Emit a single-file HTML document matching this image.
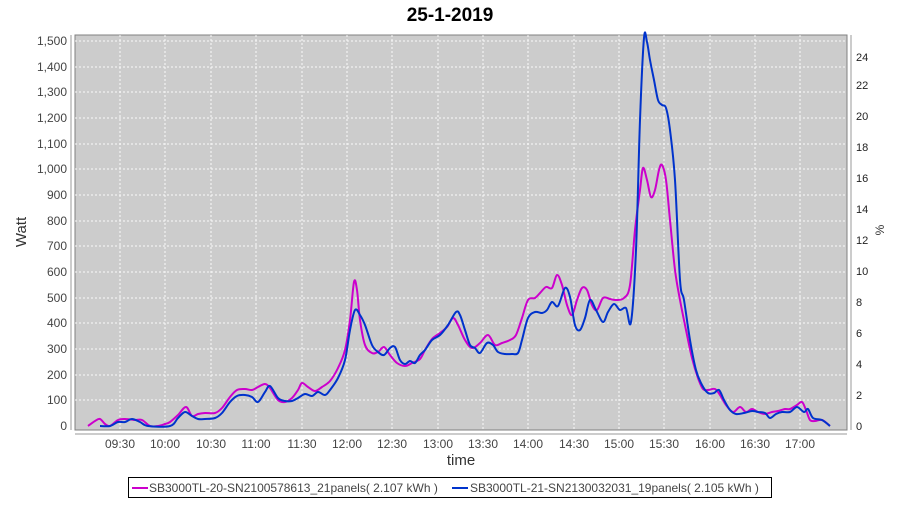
<!DOCTYPE html>
<html><head><meta charset="utf-8"><style>
body{margin:0;background:#fff;}
svg text{font-family:"Liberation Sans",sans-serif;}
</style></head><body>
<svg width="900" height="500" xmlns="http://www.w3.org/2000/svg">
<rect width="900" height="500" fill="#fff"/>
<text x="450" y="21" text-anchor="middle" font-size="19" font-weight="bold">25-1-2019</text>
<rect x="75" y="35" width="772" height="395" fill="#cccccc" stroke="#808080"/>
<g stroke="#fff" stroke-dasharray="2,2" stroke-width="1" opacity="0.9">
<line x1="75" x2="847" y1="41" y2="41"/><line x1="75" x2="847" y1="67" y2="67"/><line x1="75" x2="847" y1="92" y2="92"/><line x1="75" x2="847" y1="118" y2="118"/><line x1="75" x2="847" y1="144" y2="144"/><line x1="75" x2="847" y1="169" y2="169"/><line x1="75" x2="847" y1="195" y2="195"/><line x1="75" x2="847" y1="221" y2="221"/><line x1="75" x2="847" y1="246" y2="246"/><line x1="75" x2="847" y1="272" y2="272"/><line x1="75" x2="847" y1="298" y2="298"/><line x1="75" x2="847" y1="323" y2="323"/><line x1="75" x2="847" y1="349" y2="349"/><line x1="75" x2="847" y1="375" y2="375"/><line x1="75" x2="847" y1="400" y2="400"/>
<line y1="35" y2="430" x1="120" x2="120"/><line y1="35" y2="430" x1="165" x2="165"/><line y1="35" y2="430" x1="211" x2="211"/><line y1="35" y2="430" x1="256" x2="256"/><line y1="35" y2="430" x1="302" x2="302"/><line y1="35" y2="430" x1="347" x2="347"/><line y1="35" y2="430" x1="392" x2="392"/><line y1="35" y2="430" x1="438" x2="438"/><line y1="35" y2="430" x1="483" x2="483"/><line y1="35" y2="430" x1="528" x2="528"/><line y1="35" y2="430" x1="574" x2="574"/><line y1="35" y2="430" x1="619" x2="619"/><line y1="35" y2="430" x1="664" x2="664"/><line y1="35" y2="430" x1="710" x2="710"/><line y1="35" y2="430" x1="755" x2="755"/><line y1="35" y2="430" x1="800" x2="800"/>
</g>
<g stroke="#999"><line x1="71" x2="71" y1="35" y2="430"/><line x1="75" x2="847" y1="434" y2="434"/><line x1="851" x2="851" y1="35" y2="430"/></g>
<g font-size="12" fill="#444" text-anchor="end">
<text x="67" y="45">1,500</text><text x="67" y="71">1,400</text><text x="67" y="96">1,300</text><text x="67" y="122">1,200</text><text x="67" y="148">1,100</text><text x="67" y="173">1,000</text><text x="67" y="199">900</text><text x="67" y="225">800</text><text x="67" y="250">700</text><text x="67" y="276">600</text><text x="67" y="302">500</text><text x="67" y="327">400</text><text x="67" y="353">300</text><text x="67" y="379">200</text><text x="67" y="404">100</text><text x="67" y="430">0</text>
</g>
<g font-size="11" fill="#222">
<text x="856" y="430">0</text><text x="856" y="399">2</text><text x="856" y="368">4</text><text x="856" y="337">6</text><text x="856" y="306">8</text><text x="856" y="275">10</text><text x="856" y="244">12</text><text x="856" y="213">14</text><text x="856" y="182">16</text><text x="856" y="151">18</text><text x="856" y="120">20</text><text x="856" y="89">22</text><text x="856" y="61">24</text>
</g>
<g font-size="12" fill="#444" text-anchor="middle">
<text x="120" y="448">09:30</text><text x="165" y="448">10:00</text><text x="211" y="448">10:30</text><text x="256" y="448">11:00</text><text x="302" y="448">11:30</text><text x="347" y="448">12:00</text><text x="392" y="448">12:30</text><text x="438" y="448">13:00</text><text x="483" y="448">13:30</text><text x="528" y="448">14:00</text><text x="574" y="448">14:30</text><text x="619" y="448">15:00</text><text x="664" y="448">15:30</text><text x="710" y="448">16:00</text><text x="755" y="448">16:30</text><text x="800" y="448">17:00</text>
</g>
<text x="461" y="465" text-anchor="middle" font-size="15" fill="#333">time</text>
<text transform="translate(26,232) rotate(-90)" text-anchor="middle" font-size="15" fill="#333">Watt</text>
<text transform="translate(884,230) rotate(-90)" text-anchor="middle" font-size="12" fill="#333">%</text>
<polyline class="s" fill="none" stroke="#cc00cc" stroke-width="2" stroke-linejoin="round" points="88,426 95,421 100,419 105,424 110,426 118,420 125,419 135,420 142,420 150,426 158,426 165,424 170,422 178,415 186,407 192,416 198,414 205,413 215,413 222,408 230,397 237,390 245,389 252,390 258,387 265,384 270,388 278,400 285,402 292,398 298,390 302,383 308,387 315,391 322,387 330,381 338,368 345,350 350,320 354,282 357,290 360,320 365,345 372,353 378,352 384,347 390,355 397,363 405,366 412,363 420,359 425,350 432,339 440,333 447,327 453,318 458,325 465,340 472,348 480,343 488,335 495,345 502,343 510,340 516,335 522,318 528,300 535,298 540,293 546,287 552,288 557,275 562,285 567,305 572,315 577,300 582,288 587,290 592,305 597,310 603,298 610,299 616,300 624,298 630,285 635,230 640,190 643,168 647,180 651,197 655,190 659,170 662,165 666,180 670,220 675,270 680,300 686,330 692,358 698,378 703,389 708,390 715,389 720,395 726,405 733,412 740,407 746,412 752,409 758,412 765,414 772,412 778,411 785,409 790,409 797,405 802,402 806,410 810,420 815,421 822,420 830,426"/>
<polyline class="s" fill="none" stroke="#0033cc" stroke-width="2" stroke-linejoin="round" points="100,426 110,426 118,422 125,422 132,419 140,422 148,426 170,426 178,418 185,412 192,416 198,419 205,419 215,418 222,413 230,402 237,396 245,395 252,397 258,402 265,392 270,386 278,398 285,401 292,401 298,398 305,394 312,396 318,392 325,395 330,390 338,378 345,360 350,330 355,310 360,315 365,325 372,345 378,352 384,355 390,348 395,347 400,360 405,364 410,361 415,363 420,355 425,350 432,340 440,335 448,325 456,312 460,315 465,330 470,345 475,348 480,353 487,343 493,345 498,352 505,354 512,354 518,353 522,340 528,318 535,312 542,313 547,310 552,302 558,306 565,288 570,297 575,325 580,330 585,318 590,300 596,310 603,322 608,312 614,304 620,310 626,308 631,322 636,250 640,120 644,38 647,42 650,60 654,80 658,100 662,105 666,108 670,130 675,180 680,280 684,300 690,340 696,370 702,385 708,393 714,393 719,390 724,400 730,410 736,414 744,413 752,411 758,412 765,413 770,418 776,414 782,412 790,412 797,407 804,412 808,409 813,418 822,420 830,426"/>
<rect x="128.5" y="477.5" width="643" height="20" fill="#fff" stroke="#000"/>
<line x1="132" x2="148" y1="488" y2="488" stroke="#cc00cc" stroke-width="2"/>
<text x="149" y="492" font-size="12" fill="#444">SB3000TL-20-SN2100578613_21panels( 2.107 kWh )</text>
<line x1="452" x2="468" y1="488" y2="488" stroke="#0033cc" stroke-width="2"/>
<text x="470" y="492" font-size="12" fill="#444">SB3000TL-21-SN2130032031_19panels( 2.105 kWh )</text>
</svg>
<script>
document.querySelectorAll('polyline.s').forEach(function(pl){
  var p=pl.getAttribute('points').trim().split(/\s+/).map(function(s){return s.split(',').map(Number);});
  var d='M'+p[0][0]+','+p[0][1];
  for(var i=0;i<p.length-1;i++){
    var p0=p[i-1]||p[i],p1=p[i],p2=p[i+1],p3=p[i+2]||p2;
    var c1x=p1[0]+(p2[0]-p0[0])/6,c1y=p1[1]+(p2[1]-p0[1])/6;
    var c2x=p2[0]-(p3[0]-p1[0])/6,c2y=p2[1]-(p3[1]-p1[1])/6;
    d+=' C'+c1x+','+c1y+' '+c2x+','+c2y+' '+p2[0]+','+p2[1];
  }
  var path=document.createElementNS('http://www.w3.org/2000/svg','path');
  path.setAttribute('d',d);path.setAttribute('fill','none');
  path.setAttribute('stroke',pl.getAttribute('stroke'));path.setAttribute('stroke-width','2');
  pl.parentNode.replaceChild(path,pl);
});
</script>
</body></html>
